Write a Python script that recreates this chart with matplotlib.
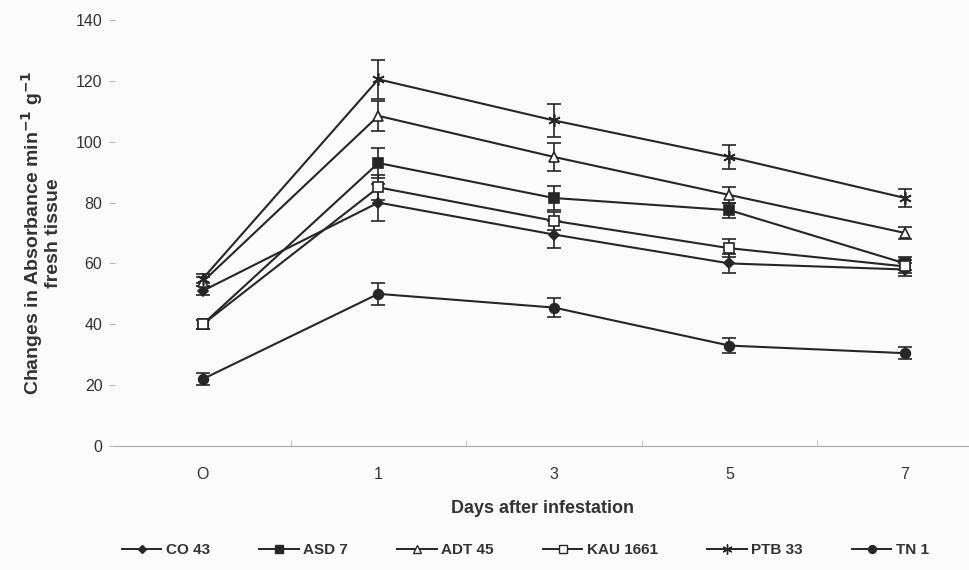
import numpy as np
import matplotlib
matplotlib.use("Agg")
import matplotlib.pyplot as plt
import matplotlib.ticker as ticker
from matplotlib.lines import Line2D

plt.rcParams['font.family'] = ['Liberation Sans', 'DejaVu Sans']

## values
days = ['O', '1', '3', '5', '7']

co43 = [51, 80, 69.5, 60, 58]
co43_err = [1.5, 6, 4.5, 3, 2]
asd7 = [40, 93, 81.5, 77.5, 60]
asd7_err = [1.5, 5, 4, 2.5, 2]
adt45 = [54, 108.5, 95, 82.5, 70]
adt45_err = [1.5, 5, 4.5, 2.5, 2]
kau1661 = [40, 85, 74, 65, 59]
kau1661_err = [1.5, 4, 3, 3, 2]
ptb33 = [55, 120.5, 107, 95, 81.5]
ptb33_err = [1.5, 6.5, 5.5, 4, 3]
tn1 = [22, 50, 45.5, 33, 30.5]
tn1_err = [2, 3.5, 3, 2.5, 2]

ink = '#262626'

series = [
    ('CO 43', co43, co43_err, dict(marker='D', ms=5, mfc=ink)),
    ('ASD 7', asd7, asd7_err, dict(marker='s', ms=7, mfc=ink)),
    ('ADT 45', adt45, adt45_err, dict(marker='^', ms=7, mfc='white')),
    ('KAU 1661', kau1661, kau1661_err, dict(marker='s', ms=7, mfc='white')),
    ('PTB 33', ptb33, ptb33_err, dict(marker=(6, 2, 0), ms=9, mfc=ink)),
    ('TN 1', tn1, tn1_err, dict(marker='o', ms=7, mfc=ink)),
]

fig = plt.figure(figsize=(9.7, 5.7), dpi=100)
fig.patch.set_facecolor('#fbfbfb')
ax = fig.add_axes([115/970, 124/570, 1 - 115/970, 426/570])
ax.set_facecolor('#fbfbfb')

x = np.arange(len(days))
handles = []
for name, vals, err, style in series:
    ax.errorbar(x, vals, yerr=err, color=ink, lw=1.5, mec=ink, mew=1.2,
                capsize=5, capthick=1.2, elinewidth=1.2, **style)
    # legend proxy without the error bar
    st = dict(style)
    st['ms'] = st['ms'] * 0.8
    handles.append(Line2D([], [], color=ink, lw=1.4, mec=ink, mew=1.0, label=name, **st))

ax.set_xlim(-0.5, 4.37)
ax.set_ylim(0, 140)
ax.set_yticks(np.arange(0, 141, 20))
ax.set_xticks(x)
ax.set_xticklabels(days)
ax.xaxis.set_minor_locator(ticker.FixedLocator(x[:-1] + 0.5))

for s in ['top', 'right', 'left']:
    ax.spines[s].set_visible(False)
ax.spines['bottom'].set_color('#aaaaaa')
ax.spines['bottom'].set_linestyle((0, (1, 1)))
ax.spines['bottom'].set_linewidth(0.8)

ax.tick_params(axis='y', length=4, color='#bbbbbb', labelsize=11.5, labelcolor='#333333', pad=5)
ax.tick_params(axis='x', which='major', length=0, labelsize=11.5, labelcolor='#333333', pad=15)
ax.tick_params(axis='x', which='minor', length=4, color='#bbbbbb', direction='in')

ax.set_xlabel('Days after infestation', fontsize=13, fontweight='bold', color='#333333', labelpad=13)
ax.set_ylabel('Changes in Absorbance min$^{\\mathbf{-1}}$ g$^{\\mathbf{-1}}$\nfresh tissue',
              fontsize=14, fontweight='bold', color='#333333', labelpad=10, linespacing=1.0)

leg = ax.legend(handles=handles, loc='lower center', bbox_to_anchor=(0.48, -0.275), ncol=6,
                frameon=False, fontsize=11, handlelength=2.6, columnspacing=3.2,
                handletextpad=0.3, borderaxespad=0, bbox_transform=ax.transAxes)
for t in leg.get_texts():
    t.set_fontweight('bold')
    t.set_color('#333333')

fig.savefig('out.png', dpi=100, facecolor=fig.get_facecolor())
